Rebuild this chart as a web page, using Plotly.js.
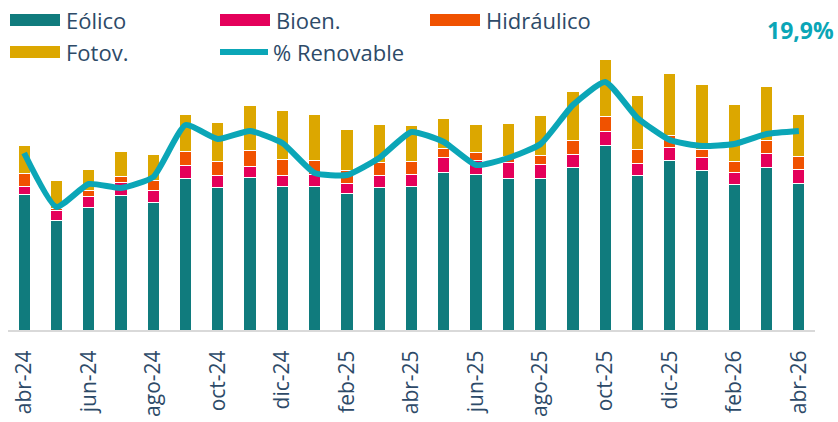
<!DOCTYPE html>
<html>
<head>
<meta charset="utf-8">
<script src="https://cdn.plot.ly/plotly-3.0.1.min.js"></script>
<style>html,body{margin:0;padding:0;background:#fff;}#chart{width:838px;height:422px;}</style>
</head>
<body>
<div id="chart"></div>
<script>
const months = ["abr-24","may-24","jun-24","jul-24","ago-24","sep-24","oct-24","nov-24","dic-24","ene-25","feb-25","mar-25","abr-25","may-25","jun-25","jul-25","ago-25","sep-25","oct-25","nov-25","dic-25","ene-26","feb-26","mar-26","abr-26"];
const tickLabels = ["abr-24","jun-24","ago-24","oct-24","dic-24","feb-25","abr-25","jun-25","ago-25","oct-25","dic-25","feb-26","abr-26"];
const eolico = [136,109.3,122.3,134.7,127.3,151.7,142.7,152.7,144,144,136.3,143,144,158,155.7,151.7,152,162.3,185,154.3,169.7,159.7,145.7,162.3,147];
const bioen = [8,10.7,11,13.3,12.7,13,11.6,10.6,10.3,11.3,10.4,11.3,11.7,14.3,14.3,15.6,14,13.7,14,12.7,12.8,13,11.6,14,14];
const hidraulico = [12.7,1.7,6.7,6,9.3,14,14.4,16.7,16.7,14.4,13.3,13.4,13.3,9,7.7,6,9,13.3,14.3,13.3,12.5,8,11.7,13,13];
const fotov = [28.3,28.3,20.7,24.3,26.7,37,39,44.7,48.7,46.3,40.7,38.3,35.3,30.7,28,33.4,39.3,49.4,57.4,54.7,61.7,64.7,57,54.7,42];
const pctRenovable = [17.7,12.3,14.6,14.2,15.3,20.5,19.1,19.9,18.7,15.7,15.5,17.2,19.8,18.8,16.5,17.2,18.6,22.5,24.8,21.2,19.0,18.4,18.6,19.6,19.9];
const lastLabel = "19,9%";

const C = {eol:"#107b7d", bio:"#e4005a", hid:"#f05200", fot:"#dca700", line:"#0ba6b7", text:"#2d4a68"};
const FONT = "Open Sans, Noto Sans, sans-serif";

function barTrace(name, y, color){
  return {type:"bar", name:name, x:months, y:y, marker:{color:color, line:{color:"#ffffff", width:1}}, hoverinfo:"x+y+name"};
}
const data = [
  barTrace("Eólico", eolico, C.eol),
  barTrace("Bioen.", bioen, C.bio),
  barTrace("Hidráulico", hidraulico, C.hid),
  barTrace("Fotov.", fotov, C.fot),
  {type:"scatter", mode:"lines", name:"% Renovable", x:months, y:pctRenovable, yaxis:"y2",
   line:{color:C.line, width:6, shape:"spline", smoothing:0.5}}
];

const legendItems = [
  {t:"Eólico", c:C.eol, x:10, y:20, kind:"rect"},
  {t:"Bioen.", c:C.bio, x:220, y:20, kind:"rect"},
  {t:"Hidráulico", c:C.hid, x:430, y:20, kind:"rect"},
  {t:"Fotov.", c:C.fot, x:10, y:52, kind:"rect"},
  {t:"% Renovable", c:C.line, x:217, y:52, kind:"line"}
];
const W = 838, H = 422;
const layout = {
  width:W, height:H,
  margin:{l:8, r:23, t:50, b:92},
  paper_bgcolor:"#ffffff", plot_bgcolor:"#ffffff",
  barmode:"stack", bargap:0.62,
  showlegend:false,
  font:{family:FONT, color:C.text},
  xaxis:{type:"category", categoryorder:"array", categoryarray:months,
    tickmode:"array", tickvals:tickLabels, ticktext:tickLabels, tickangle:-90,
    tickfont:{size:21, color:C.text, family:FONT}, ticks:"", ticklabelstandoff:10,
    showline:true, linecolor:"#d9d9d9", linewidth:2, showgrid:false, zeroline:false, fixedrange:true},
  yaxis:{range:[0,280], visible:false, showgrid:false, zeroline:false},
  yaxis2:{range:[0,28], overlaying:"y", side:"right", visible:false, showgrid:false, zeroline:false},
  shapes:[], annotations:[]
};
function px2paperX(px){ return (px-8)/807; }
function px2paperY(py){ return (330-py)/280; }
legendItems.forEach(it=>{
  if(it.kind==="rect"){
    layout.shapes.push({type:"rect", xref:"paper", yref:"paper",
      x0:px2paperX(it.x), x1:px2paperX(it.x+50), y0:px2paperY(it.y+6), y1:px2paperY(it.y-6),
      fillcolor:it.c, line:{width:0}});
  } else {
    layout.shapes.push({type:"line", xref:"paper", yref:"paper",
      x0:px2paperX(it.x+3), x1:px2paperX(it.x+51), y0:px2paperY(it.y), y1:px2paperY(it.y),
      line:{color:it.c, width:6}});
  }
  layout.annotations.push({xref:"paper", yref:"paper", x:px2paperX(it.x+54), y:px2paperY(it.y),
    xanchor:"left", yanchor:"middle", showarrow:false, text:it.t,
    font:{size:22, color:C.text, family:FONT}});
});
layout.annotations.push({xref:"paper", yref:"paper", x:px2paperX(836), y:px2paperY(30),
  xanchor:"right", yanchor:"middle", showarrow:false, text:"<b>"+lastLabel+"</b>",
  font:{size:23, color:C.line, family:FONT}});

Plotly.newPlot("chart", data, layout, {displayModeBar:false, staticPlot:true});
</script>
</body>
</html>
